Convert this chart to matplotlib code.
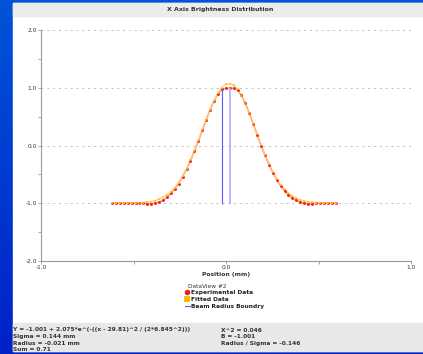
import matplotlib
matplotlib.use('Agg')
import matplotlib.pyplot as plt
import numpy as np
from matplotlib.patches import Rectangle
from matplotlib.lines import Line2D

W, H = 423, 354

# sample positions (mm)
positions = np.linspace(-0.616, 0.592, 58)

# measured brightness profile
experimental = [
    -1.00, -1.00, -1.00, -1.00, -1.00, -1.00, -1.00, -1.00, -1.00, -1.01,
    -1.01, -1.00, -0.98, -0.95, -0.90, -0.83, -0.75, -0.66, -0.54, -0.41,
    -0.27, -0.10, 0.07, 0.26, 0.44, 0.62, 0.77, 0.89, 0.97, 0.99,
    0.99, 0.99, 0.96, 0.87, 0.73, 0.56, 0.38, 0.19, 0.00, -0.17,
    -0.33, -0.47, -0.59, -0.70, -0.79, -0.86, -0.91, -0.95, -0.98, -1.00,
    -1.01, -1.01, -1.00, -1.00, -1.00, -1.00, -1.00, -1.00,
]

# gaussian fit evaluated at each sample
fitted = [
    -1.001, -1.001, -1.000, -1.000, -0.999, -0.998, -0.996, -0.993, -0.988, -0.981,
    -0.970, -0.953, -0.931, -0.899, -0.857, -0.801, -0.730, -0.641, -0.532, -0.405,
    -0.258, -0.095, 0.081, 0.264, 0.446, 0.620, 0.776, 0.906, 1.003, 1.060,
    1.073, 1.043, 0.970, 0.860, 0.719, 0.556, 0.378, 0.194, 0.013, -0.158,
    -0.316, -0.456, -0.576, -0.677, -0.759, -0.824, -0.874, -0.912, -0.940, -0.960,
    -0.974, -0.984, -0.990, -0.994, -0.997, -0.998, -0.999, -1.000,
]

beam_bounds = [-0.021, 0.021]

fit_text = [
    "Y = -1.001 + 2.075*e^(-((x - 29.81)^2 / (2*6.845^2)))",
    "Sigma = 0.144 mm",
    "Radius = -0.021 mm",
    "Sum = 0.71",
]
stat_text = [
    "X^2 = 0.046",
    "B = -1.001",
    "Radius / Sigma = -0.146",
]


def fx(x):
    return x / W


def fy(y):
    return 1 - y / H


fig = plt.figure(figsize=(W / 100, H / 100), dpi=100)

# blue gradient backdrop
bg = fig.add_axes([0, 0, 1, 1])
grad = np.linspace(0, 1, 256).reshape(-1, 1)
top = np.array([0.0, 0.33, 0.85])
bottom = np.array([0.0, 0.13, 0.78])
img = top + (bottom - top) * grad[:, :, None]
bg.imshow(img, extent=[0, 1, 0, 1], aspect='auto', origin='upper')
bg.set_xlim(0, 1)
bg.set_ylim(0, 1)
bg.axis('off')

# white panel, title bar and stats bar
bg.add_patch(Rectangle((fx(13), fy(351)), 1 - fx(13), fy(3) - fy(351), color='white'))
bg.add_patch(Rectangle((fx(13), fy(16)), 1 - fx(13), fy(3) - fy(16), color='#ececec'))
bg.add_patch(Rectangle((fx(13), fy(351)), 1 - fx(13), fy(323) - fy(351), color='#e8e8e8'))

fig.text(fx(220), fy(9.5), "X Axis Brightness Distribution", ha='center', va='center',
         fontsize=4.5, fontweight='bold', color='#333333')

ax = fig.add_axes([fx(41), fy(261), (411 - 41) / W, (261 - 30) / H])
ax.set_facecolor('none')
ax.set_xlim(-1, 1)
ax.set_ylim(-2, 2)
for s in ['top', 'right']:
    ax.spines[s].set_visible(False)
for s in ['left', 'bottom']:
    ax.spines[s].set_color('#999999')
    ax.spines[s].set_linewidth(0.8)

ax.set_xticks([-1, -0.5, 0, 0.5, 1])
ax.set_xticklabels(['-1.0', '', '0.0', '', '1.0'])
ax.set_yticks([-2, -1.5, -1, -0.5, 0, 0.5, 1, 1.5, 2])
ax.set_yticklabels(['-2.0', '', '-1.0', '', '0.0', '', '1.0', '', '2.0'])
ax.tick_params(length=2, width=0.6, color='#999999', labelsize=4.2, pad=1,
               labelcolor='#333333')

for g in [-1, 0, 1, 2]:
    ax.axhline(g, color='#b8b8b8', lw=0.6, dashes=(2.5, 4.5), zorder=0)

ax.set_xlabel("Position (mm)", fontsize=4.3, fontweight='bold', color='#333333', labelpad=1)

# data: connecting lines, then red dots under semi-opaque yellow squares
ax.plot(positions, experimental, color='#ff8a8a', lw=1.1, zorder=2)
ax.plot(positions, fitted, color='#ffcc66', lw=1.1, alpha=0.8, zorder=3)
ax.plot(positions, experimental, 'o', color='#ee2020', ms=2.1, mew=0, zorder=4)
ax.plot(positions, fitted, 's', color='#ffc21a', ms=1.8, mew=0, alpha=0.8, zorder=5)

ax.vlines(beam_bounds[0], min(experimental), max(experimental), color='#5a5aff', lw=0.8, zorder=6)
ax.vlines(beam_bounds[1], min(experimental), max(experimental), color='#b4b4ff', lw=1.3, zorder=6)

# legend
fig.text(fx(188), fy(287), "DataView #2", fontsize=4.2, color='#333333', va='center')
handles = [
    Line2D([], [], ls='none', marker='o', color='#ee1c1c', ms=4, mew=0),
    Line2D([], [], ls='none', marker='s', color='#ffc000', ms=4, mew=0),
    Line2D([], [], color='#5a5aff', lw=0.8),
]
labels = ["Experimental Data", "Fitted Data", "Beam Radius Boundry"]
leg = fig.legend(handles, labels, loc='upper left', bbox_to_anchor=(fx(185), fy(290)),
                 frameon=False, fontsize=4.2, handlelength=0.8, handletextpad=0.3,
                 labelspacing=0.35, borderpad=0, borderaxespad=0)
for t in leg.get_texts():
    t.set_color('#222222')
    t.set_fontweight('bold')

for i, line in enumerate(fit_text):
    fig.text(fx(13), fy(330 + i * 6.6), line, fontsize=4.2, fontweight='bold',
             color='#333333', va='center')
for i, line in enumerate(stat_text):
    fig.text(fx(221), fy(330 + i * 6.6), line, fontsize=4.2, fontweight='bold',
             color='#333333', va='center')

fig.savefig('out.png', dpi=100)
plt.close(fig)
